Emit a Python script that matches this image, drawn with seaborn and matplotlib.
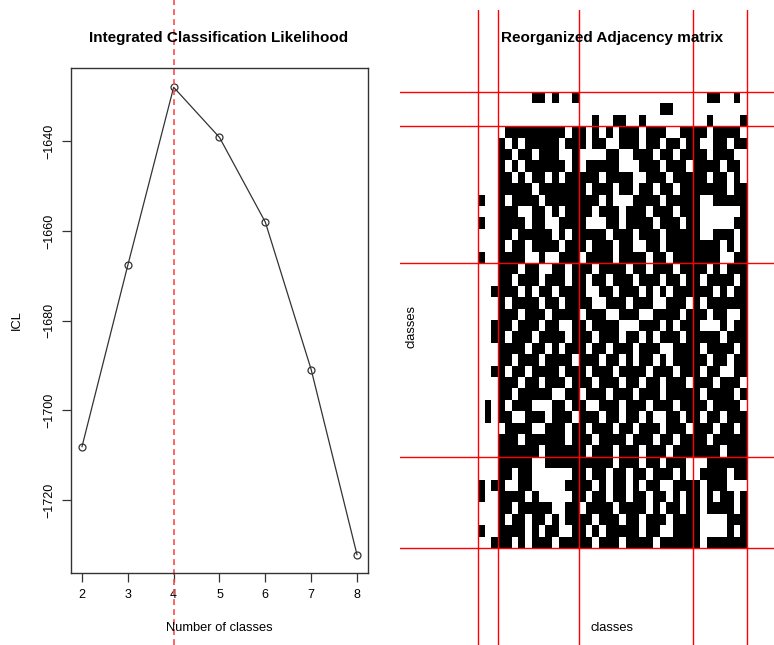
import numpy as np
import pandas as pd
import matplotlib
matplotlib.use("Agg")
import matplotlib.pyplot as plt
import seaborn as sns
from matplotlib.colors import ListedColormap

# ---------------- data ----------------
n_classes = [2, 3, 4, 5, 6, 7, 8]
icl_values = [-1708.1, -1667.6, -1627.9, -1639.1, -1658.0, -1690.9, -1732.2]
best_k = 4
y_ticks = [-1640, -1660, -1680, -1700, -1720]
x_ticks = [2, 3, 4, 5, 6, 7, 8]

class_sizes = [3, 12, 17, 8]

# rows of the reorganized adjacency matrix, blocks separated by spaces
adjacency_rows = [
    "000 000001101001 00000000000000000 00110010",
    "000 000000000000 00000000000011000 00000000",
    "000 000000000000 00100110010000000 00100001",
    "000 011111111101 10101011101110011 11011110",
    "000 101011111011 10110011101101101 10011011",
    "000 110110111001 00001100111011011 11011100",
    "000 101011111101 01111100011101110 11110110",
    "000 110101101011 11101111001110111 11011010",
    "000 111110111111 10111011011011011 11111011",
    "100 101111011111 11101000111101111 10011111",
    "000 111001101011 11011101110111011 10000001",
    "100 111101100111 10001101111011101 10000011",
    "000 110111110101 11110111011101111 10011101",
    "000 101101111011 10111011001101111 11110101",
    "100 111100100111 01111011110110111 11110011",
    "000 111011001101 11011110110111011 11010111",
    "000 110111011101 10110111011101101 10111101",
    "001 111010110111 10011011101010111 11101011",
    "000 101111011011 11001110111001110 10111111",
    "000 111011101111 01110011100111101 11011001",
    "001 110111011001 10111100011101011 10001011",
    "001 101110111101 11011101101011101 11110111",
    "000 111101101011 10110111011100111 10111101",
    "000 110111011110 11101101011010111 11011011",
    "001 101101111011 10111011110111011 10110011",
    "000 111011011101 11011101101101110 11101110",
    "000 110111110011 01110111011101111 10111101",
    "010 101110001101 10011101110111011 11011110",
    "010 110011101110 11101101101001101 10110111",
    "000 011110011101 10111011011101110 11101101",
    "000 111011111101 11011110111011011 11011111",
    "000 111111011111 10111011101110111 11110111",
    "000 111110011111 11111011101101110 00111111",
    "000 110110000001 10110110110111010 01111011",
    "101 100110000011 11010110101100111 10111000",
    "100 111101000001 10110110110110101 10101101",
    "000 110111110011 01111011110101101 10111101",
    "000 101101101011 11011101101110111 10000111",
    "100 111101011001 10101111101100111 10000101",
    "001 110101110111 11011101111011111 10111111",
]

# ---------------- figure ----------------
W, H = 774, 645
fig = plt.figure(figsize=(W / 100, H / 100), dpi=100)
plt.rcParams['font.family'] = ['Liberation Sans', 'DejaVu Sans']

def fig_rect(x0, y0, x1, y1):
    return [x0 / W, 1 - y1 / H, (x1 - x0) / W, (y1 - y0) / H]

# ---- left: ICL curve ----
ax1 = fig.add_axes(fig_rect(71, 68, 368, 573))
df = pd.DataFrame({"k": n_classes, "icl": icl_values})
sns.lineplot(data=df, x="k", y="icl", ax=ax1, color="#333333", linewidth=0.9,
             marker="o", markersize=5, markerfacecolor="none",
             markeredgecolor="#333333", markeredgewidth=0.9)
ax1.set_xlim(1.76, 8.24)
ax1.set_ylim(-1736.3, -1623.6)
ax1.set_xticks(x_ticks)
ax1.set_xticklabels([str(v) for v in x_ticks], fontsize=9)
ax1.set_yticks(y_ticks)
ax1.set_yticklabels([f"\u2212{abs(v)}" for v in y_ticks], fontsize=9,
                    rotation=90, va="center")
ax1.tick_params(length=6.5, width=0.9, color="#333333", pad=5)
for s in ax1.spines.values():
    s.set_linewidth(1.0)
    s.set_color("#333333")
ax1.set_xlabel("")
ax1.set_ylabel("")
fig.text(219 / W, 1 - 628 / H, "Number of classes", ha="center", va="center",
         fontsize=9.3)
fig.text(17 / W, 1 - 320 / H, "ICL", ha="center", va="center", fontsize=9.3,
         rotation=90)
fig.text(219 / W, 1 - 38 / H, "Integrated Classification Likelihood",
         ha="center", va="center", fontsize=11, fontweight="bold")
top_ext = 1 + 68 / 505
bot_ext = -(645 - 573) / 505
ax1.axvline(best_k, ymin=bot_ext, ymax=top_ext, color="#ff4a4a",
            linestyle=(0, (3.5, 2.5)), linewidth=1.2, clip_on=False)

# ---- right: reorganized adjacency matrix ----
rows_clean = [r.replace(" ", "") for r in adjacency_rows]
mat = np.array([[int(c) for c in r.ljust(40, "0")[:40]] for r in rows_clean])
n = mat.shape[0]
ax2 = fig.add_axes(fig_rect(400, 10, 774, 645))
sns.heatmap(mat, ax=ax2, cmap=ListedColormap(["white", "black"]), cbar=False,
            xticklabels=False, yticklabels=False, linewidths=0, square=False)
cw = (747 - 478) / n
rh = (548 - 92) / n
ax2.set_xlim(-(478 - 400) / cw, n + (774 - 747) / cw)
ax2.set_ylim(n + (645 - 548) / rh, -(92 - 10) / rh)
for s in ax2.spines.values():
    s.set_visible(False)
bounds = np.concatenate([[0], np.cumsum(class_sizes)])
for b in bounds:
    ax2.axhline(b, color="red", linewidth=1.0)
    ax2.axvline(b, color="red", linewidth=1.0)
ax2.set_xlabel("")
ax2.set_ylabel("")
fig.text(612 / W, 1 - 628 / H, "classes", ha="center", va="center", fontsize=9.3)
fig.text(411 / W, 1 - 327 / H, "classes", ha="center", va="center",
         fontsize=9.3, rotation=90)
fig.text(612 / W, 1 - 38 / H, "Reorganized Adjacency matrix", ha="center",
         va="center", fontsize=11, fontweight="bold")

fig.savefig("out.png", dpi=100)
